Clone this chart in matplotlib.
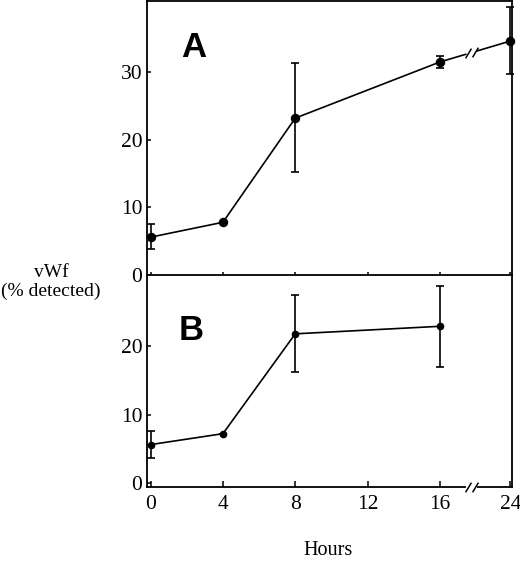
import matplotlib
matplotlib.use("Agg")
import matplotlib.pyplot as plt
import numpy as np

# data
hours = [0, 4, 8, 16, 24]
tick_hours = [0, 4, 8, 12, 16, 24]

a_mean = [5.6, 7.8, 23.2, 31.5, 34.6]
a_low = [3.8, 7.8, 15.2, 30.6, 29.7]
a_high = [7.5, 7.8, 31.3, 32.4, 39.6]

b_hours = [0, 4, 8, 16]
b_mean = [5.6, 7.2, 21.8, 22.9]
b_low = [3.6, 7.2, 16.2, 17.0]
b_high = [7.6, 7.2, 27.5, 28.8]

# broken axis: 24 h is drawn where 19.9 would be
def xpos(h):
    return [19.9 if v == 24 else v for v in h]

brk = 17.75

plt.rcParams['font.family'] = ['Liberation Serif', 'DejaVu Serif']

fig = plt.figure(figsize=(5.2, 5.63), dpi=100)
ax1 = fig.add_axes([0.282, 0.5115, 0.703, 0.4865])
ax2 = fig.add_axes([0.282, 0.135, 0.703, 0.3765])

def draw(ax, h, m, lo, hi, ms):
    x = xpos(h)
    yerr = [np.array(m) - np.array(lo), np.array(hi) - np.array(m)]
    ax.errorbar(x, m, yerr=yerr, fmt='o-', color='black', ms=ms,
                lw=1.2, elinewidth=1.2, capsize=2.6, capthick=1.2,
                clip_on=False, zorder=3)

draw(ax1, hours, a_mean, a_low, a_high, 5.8)
draw(ax2, b_hours, b_mean, b_low, b_high, 4.5)

slash = [(-0.6, -1.0), (0.6, 1.0)]

# break on panel A data line
xa = xpos(hours)
yb = np.interp([brk - 0.17, brk + 0.17], xa, a_mean)
ax1.plot([brk - 0.17, brk + 0.17], yb, color='white', lw=3, zorder=4)
ax1.plot([brk - 0.17, brk + 0.17], yb, ls='none', marker=slash,
         ms=7, mew=1.1, color='black', zorder=5)

# break on the bottom axis
tr = ax2.get_xaxis_transform()
ax2.plot([brk - 0.17, brk + 0.17], [0, 0], transform=tr, color='white',
         lw=3, zorder=4, clip_on=False)
ax2.plot([brk - 0.17, brk + 0.17], [0, 0], transform=tr, ls='none',
         marker=slash, ms=7, mew=1.1, color='black', zorder=5, clip_on=False)

for ax in (ax1, ax2):
    ax.set_xlim(-0.22, 20.0)
    ax.set_xticks(xpos(tick_hours))
    for s in ax.spines.values():
        s.set_linewidth(1.3)
    ax.tick_params(axis='y', direction='in', length=3, width=1.1,
                   labelsize=15.5, pad=3)

ax1.set_ylim(0, 40.5)
ax1.set_yticks([0, 10, 20, 30])
ax1.spines['bottom'].set_visible(False)
ax1.tick_params(axis='x', direction='inout', length=5, width=1.1,
                labelbottom=False)

ax2.set_ylim(-0.6, 30.4)
ax2.set_yticks([0, 10, 20])
ax2.set_xticklabels([str(v) for v in tick_hours])
ax2.tick_params(axis='x', direction='in', length=4, width=1.1,
                labelsize=15.5, pad=6)

ax1.text(0.13, 0.83, 'A', transform=ax1.transAxes, ha='center', va='center',
         fontsize=25, fontweight='bold', family='Liberation Sans')
ax2.text(0.123, 0.74, 'B', transform=ax2.transAxes, ha='center', va='center',
         fontsize=25, fontweight='bold', family='Liberation Sans')

fig.text(0.098, 0.499, 'vWf\n(% detected)', ha='center', va='center',
         fontsize=14, linespacing=1.15)
fig.text(0.63, 0.022, 'Hours', ha='center', va='center', fontsize=14.5)

fig.savefig('out.png', dpi=100)
